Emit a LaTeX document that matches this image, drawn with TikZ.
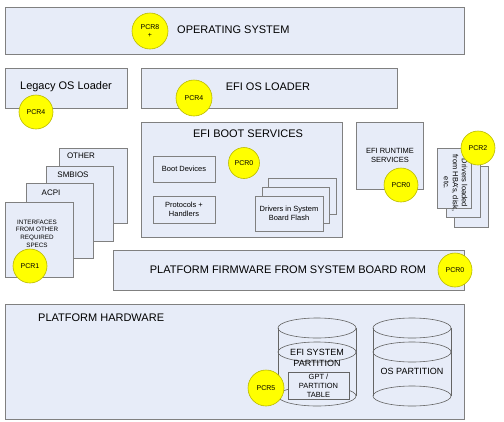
\documentclass[tikz,border=0pt]{standalone}
\usepackage{fontspec}
\setmainfont{Liberation Sans}
\definecolor{boxfill}{RGB}{231,236,248}
\definecolor{boxline}{RGB}{128,128,128}
\definecolor{cylline}{RGB}{100,100,100}
\definecolor{pcrfill}{RGB}{255,255,0}
\definecolor{pcrline}{RGB}{185,185,0}
\begin{document}
\begin{tikzpicture}[x=1pt,y=-1pt,
  box/.style={draw=boxline,fill=boxfill,line width=0.9pt,anchor=north west,inner sep=0pt},
  pcr/.style={circle,draw=pcrline,fill=pcrfill,line width=0.6pt,inner sep=0pt,minimum size=34pt,font=\fontsize{7}{8}\selectfont,align=center},
  big/.style={font=\fontsize{11}{13}\selectfont,inner sep=0pt},
  mid/.style={font=\fontsize{9}{11}\selectfont,inner sep=0pt,align=center},
  small/.style={font=\fontsize{7.5}{9}\selectfont,inner sep=0pt,align=center},
  tiny/.style={font=\fontsize{6.3}{7.6}\selectfont,inner sep=0pt,align=center},
  cyl/.style={draw=cylline,line width=0.6pt}]
\useasboundingbox (0,0) rectangle (504,421);
\fill[white] (0,0) rectangle (504,421);

% Operating system
\node[box,minimum width=459pt,minimum height=47pt] (os) at (5,7) {};
\node[big,anchor=west] (ostxt) at (177,30) {OPERATING SYSTEM};
\node[pcr,minimum size=36pt] (pcr8) at (150,31) {PCR8\\+};

% Legacy OS loader
\node[box,minimum width=122pt,minimum height=40pt] (legacy) at (5,68) {};
\node[big] (legacytxt) at (66,87) {Legacy OS Loader};
\node[pcr] (pcr4a) at (36,112) {PCR4};

% EFI OS loader
\node[box,minimum width=256pt,minimum height=40pt] (efiosl) at (141,68) {};
\node[big] (efiosltxt) at (268,87) {EFI OS LOADER};
\node[pcr,minimum size=36pt] (pcr4b) at (194,98) {PCR4};

% EFI boot services
\node[box,minimum width=201pt,minimum height=115pt] (ebs) at (141,122) {};
\node[big] (ebstxt) at (248,134) {EFI BOOT SERVICES};
\node[pcr,minimum size=31pt] (pcr0a) at (244,163) {PCR0};
\node[box,minimum width=62pt,minimum height=26pt] (bootdev) at (153,156) {};
\node[small] (bootdevtxt) at (184,169) {Boot Devices};
\node[box,minimum width=62pt,minimum height=27pt] (proto) at (153,196) {};
\node[small] (prototxt) at (184,209.5) {Protocols +\\Handlers};
\node[box,minimum width=68pt,minimum height=36pt] (drvc) at (268,178) {};
\node[box,minimum width=67pt,minimum height=36pt] (drvb) at (262,187) {};
\node[box,minimum width=68pt,minimum height=35pt] (drva) at (255,196) {};
\node[small] (drvtxt) at (289,213.5) {Drivers in System\\Board Flash};

% EFI runtime services
\node[box,minimum width=67pt,minimum height=67pt] (ers) at (356,122) {};
\node[small] (erstxt) at (390,155) {EFI RUNTIME\\SERVICES};
\node[pcr] (pcr0b) at (401,185) {PCR0};

% Drivers loaded from HBAs
\node[box,minimum width=34pt,minimum height=61pt] (hbac) at (454,166) {};
\node[box,minimum width=34pt,minimum height=60pt] (hbab) at (446,157) {};
\node[box,minimum width=34pt,minimum height=60pt] (hbaa) at (437,148) {};
\node[small,rotate=-90] (hbatxt) at (455.5,183) {Drivers loaded\\from HBA's, disk,\\etc.};
\node[pcr] (pcr2) at (478,148) {PCR2};

% Left stack
\node[box,minimum width=68pt,minimum height=75pt] (other) at (59,148) {};
\node[small,font=\fontsize{8}{9}\selectfont] (othertxt) at (81,156) {OTHER};
\node[box,minimum width=67pt,minimum height=75pt] (smbios) at (46,166) {};
\node[small,font=\fontsize{8}{9}\selectfont] (smbiostxt) at (73,175) {SMBIOS};
\node[box,minimum width=67pt,minimum height=75pt] (acpi) at (26,183) {};
\node[small,font=\fontsize{8}{9}\selectfont] (acpitxt) at (51,193) {ACPI};
\node[box,minimum width=68pt,minimum height=75pt] (ifaces) at (5,202) {};
\node[tiny] (ifacestxt) at (37,233.5) {INTERFACES\\FROM OTHER\\REQUIRED\\SPECS};
\node[pcr] (pcr1) at (30,266) {PCR1};

% Platform firmware
\node[box,minimum width=351pt,minimum height=40pt] (pfw) at (113,250) {};
\node[big] (pfwtxt) at (288,270) {PLATFORM FIRMWARE FROM SYSTEM BOARD ROM};
\node[pcr] (pcr0c) at (455,270) {PCR0};

% Platform hardware
\node[box,minimum width=459pt,minimum height=115pt] (phw) at (5,304) {};
\node[big,anchor=west] (phwtxt) at (38,318) {PLATFORM HARDWARE};

% EFI system partition cylinder
\draw[cyl] (278,328) -- (278,396) (356,328) -- (356,396);
\draw[cyl] (317,328) ellipse [x radius=39pt,y radius=10pt];
\draw[cyl] (317,352) ellipse [x radius=39pt,y radius=10pt];
\draw[cyl] (317,396) ellipse [x radius=39pt,y radius=10pt];
\node[mid] (esptxt) at (317,357.5) {EFI SYSTEM\\PARTITION};
\node[box,draw=cylline,line width=0.6pt,minimum width=61pt,minimum height=27pt] (gpt) at (288,372) {};
\node[small] (gpttxt) at (318.5,385.5) {GPT /\\PARTITION\\TABLE};
\node[pcr,minimum size=36pt] (pcr5) at (266,388) {PCR5};

% OS partition cylinder
\draw[cyl] (373,328) -- (373,396) (451,328) -- (451,396);
\draw[cyl] (412,328) ellipse [x radius=39pt,y radius=10pt];
\draw[cyl] (412,352) ellipse [x radius=39pt,y radius=10pt];
\draw[cyl] (412,396) ellipse [x radius=39pt,y radius=10pt];
\node[mid] (osptxt) at (412,371) {OS PARTITION};
\end{tikzpicture}
\end{document}
